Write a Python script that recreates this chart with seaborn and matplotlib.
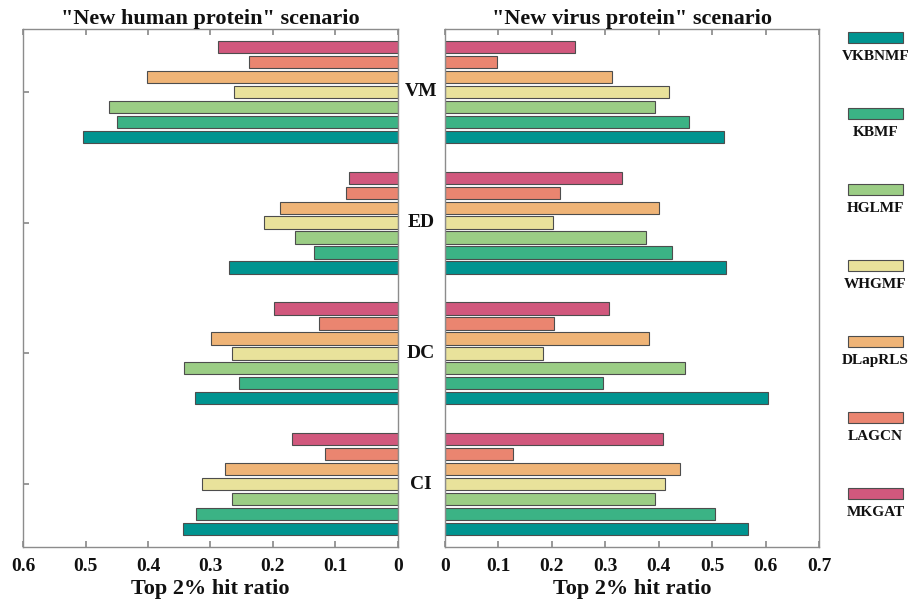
import numpy as np
import pandas as pd
import matplotlib
matplotlib.use("Agg")
import matplotlib.pyplot as plt
import matplotlib.transforms as mtransforms
from matplotlib.patches import Rectangle
import seaborn as sns

# ---------------- data ----------------
categories = ["VM", "ED", "DC", "CI"]
methods = ["VKBNMF", "KBMF", "HGLMF", "WHGMF", "DLapRLS", "LAGCN", "MKGAT"]
colors = ["#009490", "#3BB385", "#9BCD85", "#E9E29B", "#EFB477", "#EA8570", "#D1587D"]

# "New human protein" scenario (per category, in the order of `methods`)
human_VM = [0.504, 0.449, 0.462, 0.262, 0.401, 0.239, 0.288]
human_ED = [0.270, 0.135, 0.165, 0.214, 0.188, 0.083, 0.079]
human_DC = [0.325, 0.254, 0.342, 0.265, 0.299, 0.126, 0.198]
human_CI = [0.344, 0.323, 0.265, 0.314, 0.276, 0.116, 0.170]

# "New virus protein" scenario
virus_VM = [0.523, 0.457, 0.393, 0.419, 0.312, 0.098, 0.244]
virus_ED = [0.525, 0.424, 0.377, 0.203, 0.401, 0.215, 0.331]
virus_DC = [0.604, 0.296, 0.450, 0.183, 0.382, 0.204, 0.307]
virus_CI = [0.568, 0.506, 0.393, 0.412, 0.440, 0.127, 0.408]

human_ticks = [0, 0.1, 0.2, 0.3, 0.4, 0.5, 0.6]
virus_ticks = [0, 0.1, 0.2, 0.3, 0.4, 0.5, 0.6, 0.7]
xlabel = "Top 2% hit ratio"
title_h = '"New human protein" scenario'
title_v = '"New virus protein" scenario'


def long_df(vals):
    rows = []
    for cat, v in zip(categories, vals):
        for m, x in zip(methods, v):
            rows.append({"cat": cat, "method": m, "value": x})
    return pd.DataFrame(rows)


df_h = long_df([human_VM, human_ED, human_DC, human_CI])
df_v = long_df([virus_VM, virus_ED, virus_DC, virus_CI])
palette = dict(zip(methods, colors))
hue_order = methods[::-1]  # MKGAT on top within each group

sns.set_theme(style="white")
plt.rcParams["font.family"] = ["Liberation Serif", "DejaVu Serif"]
plt.rcParams["font.weight"] = "bold"

W, H = 916, 608
fig = plt.figure(figsize=(W / 100, H / 100), dpi=100)
ax1 = fig.add_axes([23 / W, 61 / H, 375 / W, 518 / H])
ax2 = fig.add_axes([445 / W, 61 / H, 374 / W, 518 / H])

spine_col = "#8c8c8c"
edge_col = "#4d4d4d"

for ax, df, ticks, title in [(ax1, df_h, human_ticks, title_h), (ax2, df_v, virus_ticks, title_v)]:
    sns.barplot(data=df, y="cat", x="value", hue="method", order=categories,
                hue_order=hue_order, palette=palette, orient="h", gap=0.18,
                saturation=1, edgecolor=edge_col, linewidth=0.8, ax=ax, legend=False)
    ax.set_ylim(3.48, -0.48)
    ax.set_xticks(ticks)
    ax.set_xticklabels([("0" if t == 0 else f"{t:g}") for t in ticks],
                       fontsize=14, fontweight="bold")
    ax.set_xlabel(xlabel, fontsize=16, fontweight="bold", labelpad=3, color="#111111")
    ax.set_ylabel("")
    ax.set_title(title, fontsize=16, fontweight="bold", pad=3, color="#111111")
    for s in ax.spines.values():
        s.set_visible(True)
        s.set_color(spine_col)
        s.set_linewidth(1.0)
    ax.tick_params(axis="x", which="both", direction="in", top=True, bottom=True,
                   length=4, color=spine_col, pad=8, labelcolor="#111111")

ax1.set_xlim(0.6, 0)
ax2.set_xlim(0, 0.7)

ax1.set_yticks(range(len(categories)))
ax1.set_yticklabels([])
ax1.tick_params(axis="y", direction="in", left=True, right=True, length=4, color=spine_col)
ax2.set_yticks(range(len(categories)))
ax2.set_yticklabels([])
ax2.tick_params(axis="y", length=0)

# category labels between the two panels
trans = mtransforms.blended_transform_factory(ax1.transAxes, ax1.transData)
for i, cat in enumerate(categories):
    ax1.text(1.0613, i, cat, transform=trans, ha="center", va="center",
             fontsize=14, fontweight="bold", color="#111111", clip_on=False)

# custom legend on the right: patch with label underneath
lax = fig.add_axes([0, 0, 1, 1])
lax.set_xlim(0, W)
lax.set_ylim(H, 0)
lax.axis("off")
lax.patch.set_visible(False)
for i, (m, c) in enumerate(zip(methods, colors)):
    y0 = 31.7 + 76 * i
    lax.add_patch(Rectangle((848, y0), 55, 11.6, facecolor=c, edgecolor=edge_col, linewidth=0.8))
    lax.text(875.5, y0 + 25, m, ha="center", va="center", fontsize=11,
             fontweight="bold", color="#111111")

fig.savefig("out.png", dpi=100)
